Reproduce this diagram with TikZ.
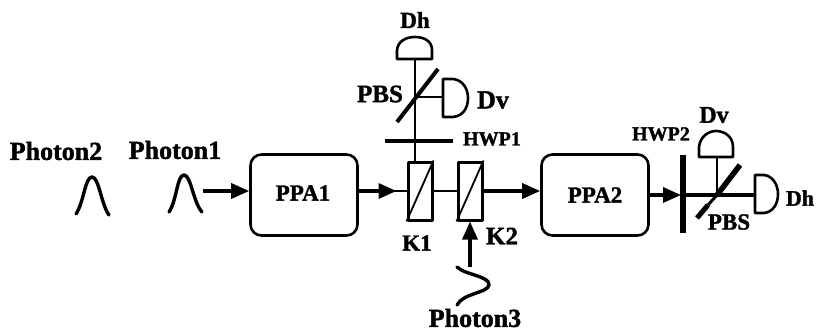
\documentclass[tikz,border=0pt]{standalone}
\usepackage{fontspec}
\setmainfont{Liberation Serif}[BoldFeatures={FakeBold=1.5}]
\usetikzlibrary{arrows.meta}
\tikzset{
  x=1pt,y=-1pt,
  every path/.style={line join=round},
  lab/.style={inner sep=0pt,font=\bfseries\fontsize{#1}{#1}\selectfont},
  lab/.default=25,
  ampbox/.style={draw,line width=2.6pt,rounded corners=11pt,minimum width=107pt,minimum height=81pt,inner sep=0pt},
  kerr/.style={draw,line width=3pt,minimum width=24pt,minimum height=58pt,inner sep=0pt},
  beam/.style={line width=2.8pt},
  bigarrow/.style={line width=3.4pt,-{Triangle[length=18pt,width=15pt]}},
  thickplate/.style={line width=4.4pt},
  det/.style={draw,line width=2.6pt,fill=white},
  pulse/.style={line width=3.4pt,line cap=round},
  inner/.style={line width=1.8pt},
}
\begin{document}
\begin{tikzpicture}
\useasboundingbox (0,0) rectangle (816,335);
% Labels
\node[lab=26] (ph2) at (56,151) {Photon2};
\node[lab=26] (ph1) at (175,150) {Photon1};
\node[lab=23] (ppa1t) at (303,193) {PPA1};
\node[lab=23] (ppa2t) at (595,195) {PPA2};
\node[lab=23] (dh1t) at (415,20) {Dh};
\node[lab=25] (pbs1t) at (380,94) {PBS};
\node[lab=26] (dv1t) at (493,100) {Dv};
\node[lab=20] (hwp1t) at (492,139) {HWP1};
\node[lab=23] (k1t) at (417,243) {K1};
\node[lab=25] (k2t) at (502,236) {K2};
\node[lab=26] (ph3) at (475,318) {Photon3};
\node[lab=20] (hwp2t) at (661,134) {HWP2};
\node[lab=24] (dv2t) at (714,115) {Dv};
\node[lab=22] (dh2t) at (800,198) {Dh};
\node[lab=23] (pbs2t) at (729,222) {PBS};
% Boxes
\node[ampbox] (ppa1) at (304,195) {};
\node[ampbox] (ppa2) at (595,195) {};
\node[kerr] (k1) at (420,191) {};
\node[kerr] (k2) at (470,191) {};
% Anchors
\coordinate (pbs1) at (415,97);
\coordinate (pbs2) at (717,195);
\coordinate (hwp1l) at (385,141);
\coordinate (hwp1r) at (453,141);
\coordinate (hwp2t0) at (683,155);
\coordinate (hwp2b) at (683,233);
\coordinate (hw2) at (683,195);
\coordinate (dh1) at (415,59);
\coordinate (dv1) at (443,97);
\coordinate (dv2) at (717,157);
\coordinate (dh2) at (755,195);
\coordinate (pu1) at (203,191);
\coordinate (sq) at (470,267);
% Beams
\draw[bigarrow] (pu1) -- (ppa1.west |- pu1);
\draw[bigarrow,shorten >=10pt] (ppa1.east |- k1.west) -- (k1.west);
\draw[beam] (ppa1.east |- k1.west) -- (k1.west);
\draw[beam] (k1.east) -- (k2.west);
\draw[bigarrow] (k2.east) -- (ppa2.west |- k2.east);
\draw[beam] (k1.north -| dh1) -- (dh1);
\draw[beam] (pbs1) -- (dv1);
\draw[thickplate] (hwp1l) -- (hwp1r);
\draw[bigarrow,shorten >=2pt] (ppa2.east) -- (hw2);
\draw[line width=6pt] (hwp2t0) -- (hwp2b);
\draw[line width=3.2pt] (hw2) -- (dh2);
\draw[beam] (pbs2) -- (dv2);
\draw[bigarrow] (sq) -- (k2.south);
% Kerr diagonals
\draw[inner] (k1.south west) -- (k1.north east);
\draw[inner] (k2.south west) -- (k2.north east);
% PBS plates
\draw[line width=4pt] (397,122) -- (438,69);
\draw[line width=5pt] (697,218) -- (708,205);
\draw[line width=5.5pt] (717,195) -- (740,165);
\draw[line width=3pt] (708,205) -- (717,195);
% Detectors
\draw[det] (dh1) -- (397,59) -- (397,50) .. controls (398,41) and (406,37) .. (415,37) .. controls (424,37) and (432,41) .. (432,50) -- (432,59) -- cycle;
\draw[det] (dv1) -- (443,79) -- (453,79) .. controls (463,80) and (468,89) .. (468,98) .. controls (468,108) and (463,116) .. (453,117) -- (443,117) -- cycle;
\draw[det] (dv2) -- (699,157) -- (699,147) .. controls (700,137) and (708,131) .. (716,131) .. controls (725,131) and (733,137) .. (733,147) -- (733,157) -- cycle;
\draw[det] (dh2) -- (755,175) -- (764,175) .. controls (773,176) and (778,185) .. (778,194) .. controls (778,204) and (773,212) .. (764,213) -- (755,213) -- cycle;
% Pulses and squiggle
\draw[pulse] (76,214) .. controls (84,202) and (85,177) .. (92,177) .. controls (99,177) and (101,204) .. (109,215);
\draw[pulse] (169,212) .. controls (177,200) and (177,175) .. (184,175) .. controls (191,175) and (193,202) .. (202,212);
\draw[pulse] (457,267) .. controls (465,275) and (490,276) .. (489,285) .. controls (488,293) and (463,293) .. (457,305);
\end{tikzpicture}
\end{document}
